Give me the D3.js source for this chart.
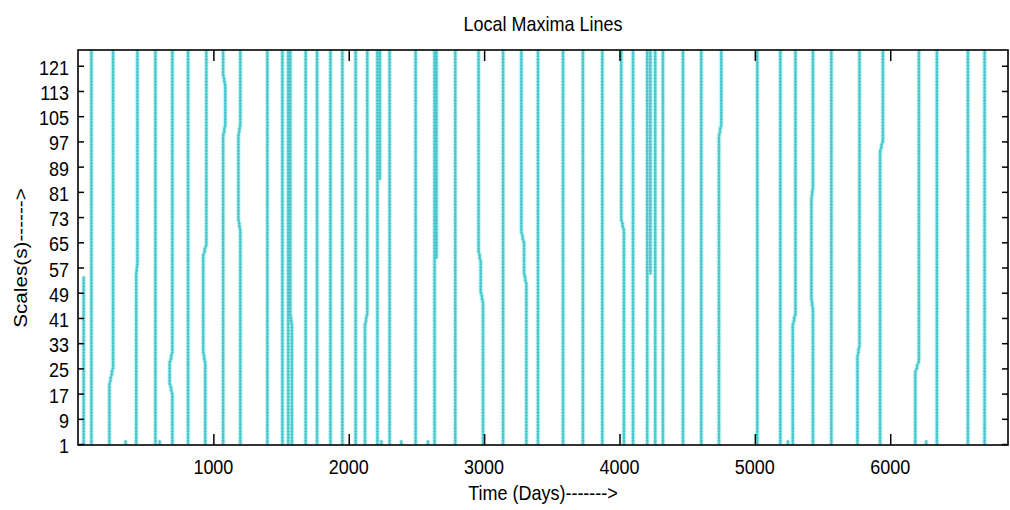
<!DOCTYPE html>
<html>
<head>
<meta charset="utf-8">
<script src="https://cdn.jsdelivr.net/npm/d3@7"></script>
<style>
  body { margin: 0; background: #fff; }
  svg { display: block; }
  text { font-family: "Liberation Sans", Arial, sans-serif; fill: #000; }
</style>
</head>
<body>
<svg id="chart" width="1010" height="510"></svg>
<script>
// axis ticks
var xTicks = [1000, 2000, 3000, 4000, 5000, 6000];
var yTicks = [1, 9, 17, 25, 33, 41, 49, 57, 65, 73, 81, 89, 97, 105, 113, 121];

// each maxima line: segments of [fromScale, toScale, day]
var maximaLines = [
  [[1, 54, 42]],
  [[1, 126, 99]],
  [[1, 20, 232], [21, 22, 240], [23, 24, 250], [25, 126, 259]],
  [[1, 55, 430], [56, 57, 434], [58, 126, 439]],
  [[1, 126, 572]],
  [[1, 17, 697], [18, 19, 688], [20, 27, 677], [28, 29, 688], [30, 126, 697]],
  [[1, 126, 813]],
  [[1, 27, 940], [28, 29, 932], [30, 61, 925], [62, 63, 936], [64, 126, 948]],
  [[1, 99, 1072], [100, 101, 1080], [102, 115, 1088], [116, 117, 1080], [118, 126, 1072]],
  [[1, 69, 1199], [70, 71, 1192], [72, 99, 1185], [100, 101, 1192], [102, 126, 1199]],
  [[1, 126, 1399]],
  [[1, 126, 1510]],
  [[1, 126, 1553]],
  [[1, 39, 1580], [40, 41, 1574], [42, 126, 1568]],
  [[1, 126, 1682]],
  [[1, 126, 1766]],
  [[1, 126, 1865]],
  [[1, 126, 1953]],
  [[1, 126, 2051]],
  [[1, 39, 2120], [40, 41, 2128], [42, 126, 2137]],
  [[1, 126, 2212]],
  [[85, 126, 2230]],
  [[1, 126, 2302]],
  [[1, 126, 2494]],
  [[1, 126, 2634]],
  [[60, 126, 2648]],
  [[1, 126, 2787]],
  [[1, 46, 2992], [47, 48, 2984], [49, 59, 2975], [60, 61, 2967], [62, 126, 2959]],
  [[1, 126, 3140]],
  [[1, 52, 3312], [53, 54, 3303], [55, 65, 3295], [66, 67, 3285], [68, 126, 3275]],
  [[1, 126, 3398]],
  [[1, 126, 3583]],
  [[1, 126, 3730]],
  [[1, 126, 3873]],
  [[1, 69, 4033], [70, 71, 4023], [72, 126, 4013]],
  [[1, 126, 4100]],
  [[1, 126, 4205]],
  [[55, 126, 4228]],
  [[1, 126, 4264]],
  [[1, 126, 4321]],
  [[1, 126, 4469]],
  [[1, 126, 4604]],
  [[1, 99, 4735], [100, 101, 4743], [102, 126, 4752]],
  [[1, 126, 5018]],
  [[1, 126, 5188]],
  [[1, 39, 5280], [40, 41, 5290], [42, 126, 5300]],
  [[1, 44, 5429], [45, 46, 5423], [47, 79, 5418], [80, 81, 5423], [82, 126, 5429]],
  [[1, 126, 5565]],
  [[1, 29, 5758], [30, 31, 5765], [32, 126, 5773]],
  [[1, 94, 5925], [95, 96, 5935], [97, 126, 5946]],
  [[1, 24, 6185], [25, 26, 6198], [27, 126, 6212]],
  [[1, 126, 6345]],
  [[1, 126, 6574]],
  [[1, 126, 6697]],
  [[1, 2, 352]], [[1, 2, 603]], [[1, 2, 2241]], [[1, 2, 2388]],
  [[1, 2, 2585]], [[1, 2, 5244]], [[1, 2, 6266]]
];

var svg = d3.select("#chart");
var pLeft = 78, pRight = 1008, pTop = 50, pBottom = 445;
var stretch = 1.15; // the reference glyphs are drawn a bit taller than wide

var xScale = d3.scaleLinear().domain([0, 6870]).range([pLeft, pRight]);
var yScale = d3.scaleLinear().domain([0.7, 126]).range([pBottom, pTop]);

// expand segments to one point per integer scale
var linePoints = maximaLines.map(function(segs) {
  var pts = [];
  segs.forEach(function(s) {
    for (var k = s[0]; k <= s[1]; k++) pts.push([s[2], k]);
  });
  return pts;
});

var plot = svg.append("g");
plot.append("clipPath").attr("id", "clip")
  .append("rect").attr("x", pLeft).attr("y", pTop)
  .attr("width", pRight - pLeft).attr("height", pBottom - pTop);

var lineGen = d3.line()
  .curve(d3.curveBasis)
  .x(function(d) { return xScale(d[0]); })
  .y(function(d) { return yScale(d[1]); });

var lines = plot.append("g").attr("clip-path", "url(#clip)");

// soft halo + core line
lines.selectAll(".halo")
  .data(linePoints).enter()
  .append("path").attr("class", "halo")
  .attr("d", lineGen)
  .attr("fill", "none")
  .attr("stroke", "#a6f3f3")
  .attr("stroke-width", 5)
  .attr("stroke-opacity", 0.5);

lines.selectAll(".core")
  .data(linePoints).enter()
  .append("path").attr("class", "core")
  .attr("d", lineGen)
  .attr("fill", "none")
  .attr("stroke", "#45e0e0")
  .attr("stroke-width", 2.4);

// plus markers at every scale
lines.selectAll(".marks")
  .data(linePoints).enter()
  .append("path").attr("class", "marks")
  .attr("d", function(pts) {
    return pts.map(function(p) {
      var cx = xScale(p[0]), cy = yScale(p[1]);
      return "M" + (cx - 1.6) + "," + cy + "h3.2M" + cx + "," + (cy - 1.3) + "v2.6";
    }).join("");
  })
  .attr("fill", "none")
  .attr("stroke", "#6aaab4")
  .attr("stroke-width", 0.8)
  .attr("stroke-opacity", 0.8);

// axes, ticks pointing inward
var gx = svg.append("g")
  .attr("transform", "translate(0," + pBottom + ")")
  .call(d3.axisBottom(xScale).tickValues(xTicks).tickSize(-11).tickFormat(""));
var gxt = svg.append("g")
  .attr("transform", "translate(0," + pTop + ")")
  .call(d3.axisTop(xScale).tickValues(xTicks).tickSize(-11).tickFormat(""));
var gy = svg.append("g")
  .attr("transform", "translate(" + pLeft + ",0)")
  .call(d3.axisLeft(yScale).tickValues(yTicks).tickSize(-6).tickFormat(""));
var gyr = svg.append("g")
  .attr("transform", "translate(" + pRight + ",0)")
  .call(d3.axisRight(yScale).tickValues(yTicks).tickSize(-6).tickFormat(""));
svg.selectAll(".domain").remove();
svg.selectAll(".tick line").attr("stroke", "#000").attr("stroke-width", 1.5);

svg.append("rect")
  .attr("x", pLeft).attr("y", pTop)
  .attr("width", pRight - pLeft).attr("height", pBottom - pTop)
  .attr("fill", "none").attr("stroke", "#000").attr("stroke-width", 1.6);

// tick labels
svg.append("g").selectAll("text")
  .data(xTicks).enter()
  .append("text")
  .attr("transform", function(d) { return "translate(" + xScale(d) + ",474) scale(1," + stretch + ")"; })
  .attr("text-anchor", "middle").attr("font-size", 18)
  .text(function(d) { return d; });

svg.append("g").selectAll("text")
  .data(yTicks).enter()
  .append("text")
  .attr("transform", function(d) { return "translate(69," + (yScale(d) + 9) + ") scale(1," + stretch + ")"; })
  .attr("text-anchor", "end").attr("font-size", 18)
  .text(function(d) { return d; });

// titles
svg.append("text")
  .attr("transform", "translate(" + (pLeft + pRight) / 2 + ",31) scale(1," + stretch + ")")
  .attr("text-anchor", "middle").attr("font-size", 18)
  .text("Local Maxima Lines");

svg.append("text")
  .attr("transform", "translate(" + (pLeft + pRight) / 2 + ",500) scale(1," + stretch + ")")
  .attr("text-anchor", "middle").attr("font-size", 18)
  .text("Time (Days)------->");

svg.append("text")
  .attr("transform", "translate(27,258) rotate(-90) scale(" + stretch + ",1)")
  .attr("text-anchor", "middle").attr("font-size", 18)
  .text("Scales(s)------>");
</script>
</body>
</html>
